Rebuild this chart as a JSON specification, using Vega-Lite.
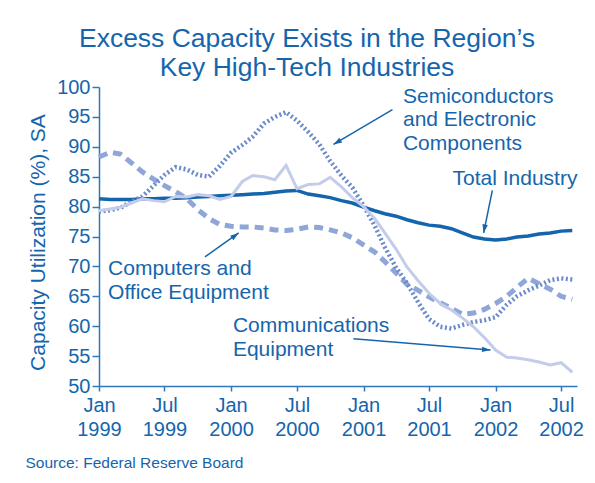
{
  "$schema": "https://vega.github.io/schema/vega-lite/v6.json",
  "width": 478,
  "height": 299,
  "autosize": {"type": "none"},
  "padding": {"left": 99, "top": 87, "right": 18, "bottom": 97},
  "background": "white",
  "config": {
    "font": "Liberation Sans",
    "view": {"stroke": null},
    "axis": {"grid": false},
    "axisY": {"tickCount": 12, "labelOverlap": false}
  },
  "title": {
    "text": ["Excess Capacity Exists in the Region’s", "Key High-Tech Industries"],
    "fontSize": 26.5,
    "fontWeight": "normal",
    "color": "#1565ad",
    "lineHeight": 29,
    "anchor": "middle",
    "frame": "group",
    "dx": -31,
    "offset": -4
  },
  "datasets": {
    "series": [
      {"date": "1999-01-01", "total": 81.3, "semis": 79.2, "computers": 88.3, "comms": 79.3},
      {"date": "1999-02-01", "total": 81.2, "semis": 79.4, "computers": 89.1, "comms": 79.6},
      {"date": "1999-03-01", "total": 81.2, "semis": 79.8, "computers": 88.8, "comms": 79.9},
      {"date": "1999-04-01", "total": 81.2, "semis": 80.8, "computers": 87.3, "comms": 80.6},
      {"date": "1999-05-01", "total": 81.3, "semis": 81.7, "computers": 85.8, "comms": 81.3},
      {"date": "1999-06-01", "total": 81.3, "semis": 83.5, "computers": 84.6, "comms": 81.0},
      {"date": "1999-07-01", "total": 81.4, "semis": 85.3, "computers": 83.5, "comms": 80.8},
      {"date": "1999-08-01", "total": 81.4, "semis": 86.6, "computers": 82.5, "comms": 81.7},
      {"date": "1999-09-01", "total": 81.5, "semis": 86.2, "computers": 81.3, "comms": 81.6},
      {"date": "1999-10-01", "total": 81.6, "semis": 85.3, "computers": 79.5, "comms": 82.0},
      {"date": "1999-11-01", "total": 81.7, "semis": 85.0, "computers": 78.0, "comms": 81.8},
      {"date": "1999-12-01", "total": 81.8, "semis": 86.8, "computers": 77.0, "comms": 81.2},
      {"date": "2000-01-01", "total": 81.9, "semis": 89.0, "computers": 76.7, "comms": 81.7},
      {"date": "2000-02-01", "total": 82.0, "semis": 90.3, "computers": 76.6, "comms": 84.2},
      {"date": "2000-03-01", "total": 82.1, "semis": 91.7, "computers": 76.6, "comms": 85.2},
      {"date": "2000-04-01", "total": 82.2, "semis": 93.9, "computers": 76.4, "comms": 85.0},
      {"date": "2000-05-01", "total": 82.4, "semis": 95.0, "computers": 76.1, "comms": 84.5},
      {"date": "2000-06-01", "total": 82.6, "semis": 95.8, "computers": 76.0, "comms": 86.9},
      {"date": "2000-07-01", "total": 82.7, "semis": 94.4, "computers": 76.2, "comms": 83.0},
      {"date": "2000-08-01", "total": 82.1, "semis": 92.5, "computers": 76.6, "comms": 83.7},
      {"date": "2000-09-01", "total": 81.8, "semis": 90.4, "computers": 76.5, "comms": 83.8},
      {"date": "2000-10-01", "total": 81.5, "semis": 87.6, "computers": 76.1, "comms": 84.9},
      {"date": "2000-11-01", "total": 81.0, "semis": 85.2, "computers": 75.6, "comms": 83.3},
      {"date": "2000-12-01", "total": 80.6, "semis": 83.2, "computers": 74.8, "comms": 81.5},
      {"date": "2001-01-01", "total": 79.9, "semis": 80.2, "computers": 73.6, "comms": 80.0},
      {"date": "2001-02-01", "total": 79.3, "semis": 76.8, "computers": 72.4, "comms": 78.0},
      {"date": "2001-03-01", "total": 78.8, "semis": 73.2, "computers": 70.8, "comms": 75.6},
      {"date": "2001-04-01", "total": 78.4, "semis": 69.8, "computers": 68.9, "comms": 72.9},
      {"date": "2001-05-01", "total": 77.8, "semis": 67.2, "computers": 67.0, "comms": 69.9},
      {"date": "2001-06-01", "total": 77.3, "semis": 64.0, "computers": 66.0, "comms": 67.6},
      {"date": "2001-07-01", "total": 76.9, "semis": 61.2, "computers": 64.9, "comms": 65.5},
      {"date": "2001-08-01", "total": 76.7, "semis": 59.9, "computers": 63.9, "comms": 63.8},
      {"date": "2001-09-01", "total": 76.3, "semis": 59.6, "computers": 63.0, "comms": 62.7},
      {"date": "2001-10-01", "total": 75.6, "semis": 60.2, "computers": 62.0, "comms": 61.4},
      {"date": "2001-11-01", "total": 74.9, "semis": 60.7, "computers": 62.2, "comms": 59.9},
      {"date": "2001-12-01", "total": 74.6, "semis": 61.0, "computers": 62.8, "comms": 58.1},
      {"date": "2002-01-01", "total": 74.4, "semis": 61.5, "computers": 63.8, "comms": 56.0},
      {"date": "2002-02-01", "total": 74.6, "semis": 63.6, "computers": 65.0, "comms": 54.8},
      {"date": "2002-03-01", "total": 74.9, "semis": 65.0, "computers": 66.5, "comms": 54.7},
      {"date": "2002-04-01", "total": 75.1, "semis": 66.0, "computers": 68.0, "comms": 54.4},
      {"date": "2002-05-01", "total": 75.4, "semis": 66.8, "computers": 67.1, "comms": 54.0},
      {"date": "2002-06-01", "total": 75.6, "semis": 67.7, "computers": 66.2, "comms": 53.5},
      {"date": "2002-07-01", "total": 75.9, "semis": 68.0, "computers": 65.0, "comms": 53.9},
      {"date": "2002-08-01", "total": 76.0, "semis": 67.8, "computers": 64.5, "comms": 52.3}
    ],
    "labels": [
      {"name": "semis", "text": "Semiconductors\nand Electronic\nComponents", "date": "2001-04-20", "value": 97.4},
      {"name": "total", "text": "Total Industry", "date": "2001-09-04", "value": 83.6},
      {"name": "computers", "text": "Computers and\nOffice Equipment", "date": "1999-01-26", "value": 68.5},
      {"name": "comms", "text": "Communications\nEquipment", "date": "2000-01-06", "value": 59.0}
    ],
    "arrows": [
      {"name": "semis", "date": "2001-03-22", "value": 96.2, "date2": "2000-10-10", "value2": 90.4},
      {"name": "total", "date": "2001-12-23", "value": 82.7, "date2": "2001-11-29", "value2": 75.6},
      {"name": "computers", "date": "1999-10-21", "value": 71.6, "date2": "2000-01-22", "value2": 75.6},
      {"name": "comms", "date": "2000-12-04", "value": 57.9, "date2": "2001-12-18", "value2": 56.0}
    ]
  },
  "encoding": {
    "x": {
      "field": "date",
      "type": "temporal",
      "scale": {
        "type": "utc",
        "domain": [
          {"year": 1999, "month": 1, "date": 1, "utc": true},
          {"year": 2002, "month": 8, "date": 14, "utc": true}
        ]
      },
      "axis": {
        "values": [
          {"year": 1999, "month": 1, "date": 1, "utc": true},
          {"year": 1999, "month": 7, "date": 1, "utc": true},
          {"year": 2000, "month": 1, "date": 1, "utc": true},
          {"year": 2000, "month": 7, "date": 1, "utc": true},
          {"year": 2001, "month": 1, "date": 1, "utc": true},
          {"year": 2001, "month": 7, "date": 1, "utc": true},
          {"year": 2002, "month": 1, "date": 1, "utc": true},
          {"year": 2002, "month": 7, "date": 1, "utc": true}
        ],
        "tickCount": 10,
        "labelExpr": "[utcFormat(datum.value, '%b'), utcFormat(datum.value, '%Y')]",
        "labelFontSize": 20,
        "labelLineHeight": 24,
        "labelColor": "#1565ad",
        "labelPadding": 4,
        "labelFlush": false,
        "labelOverlap": false,
        "domainColor": "#2f78bd",
        "domainWidth": 1.5,
        "tickColor": "#2f78bd",
        "tickWidth": 1.5,
        "tickSize": 5,
        "title": "Source: Federal Reserve Board",
        "titleFontSize": 15.5,
        "titleFontWeight": "normal",
        "titleColor": "#1565ad",
        "titleAlign": "left",
        "titleAnchor": "start",
        "titleBaseline": "alphabetic",
        "titleX": -74,
        "titleY": 81
      }
    }
  },
  "layer": [
    {
      "data": {"name": "series"},
      "mark": {"type": "line", "color": "#1565ad", "strokeWidth": 3.5},
      "encoding": {
        "y": {
          "field": "total",
          "type": "quantitative",
          "scale": {"domain": [50, 100], "nice": false, "zero": false},
          "axis": {
            "values": [50, 55, 60, 65, 70, 75, 80, 85, 90, 95, 100],
            "tickCount": 12,
            "labelFontSize": 20,
            "labelColor": "#1565ad",
            "labelPadding": 2,
            "labelFlush": false,
            "labelOverlap": false,
            "domainColor": "#2f78bd",
            "domainWidth": 1.5,
            "tickColor": "#2f78bd",
            "tickWidth": 1.5,
            "tickSize": 7,
            "title": "Capacity Utilization (%), SA",
            "titleFontSize": 21,
            "titleFontWeight": "normal",
            "titleColor": "#1565ad",
            "titlePadding": 8,
            "titleY": 155
          }
        }
      }
    },
    {
      "data": {"name": "series"},
      "mark": {"type": "line", "color": "#8ea6d8", "strokeWidth": 5, "strokeDash": [9, 6]},
      "encoding": {"y": {"field": "computers", "type": "quantitative"}}
    },
    {
      "data": {"name": "series"},
      "mark": {"type": "line", "color": "#6a8acb", "strokeWidth": 4.5, "strokeDash": [2, 2.5]},
      "encoding": {"y": {"field": "semis", "type": "quantitative"}}
    },
    {
      "data": {"name": "series"},
      "mark": {"type": "line", "color": "#c3cdea", "strokeWidth": 3},
      "encoding": {"y": {"field": "comms", "type": "quantitative"}}
    },
    {
      "data": {"name": "labels"},
      "mark": {"type": "text", "align": "left", "baseline": "alphabetic", "fontSize": 21, "lineHeight": 23.5, "lineBreak": "\n", "color": "#1565ad"},
      "encoding": {
        "y": {"field": "value", "type": "quantitative"},
        "text": {"field": "text"}
      }
    },
    {
      "data": {"name": "arrows"},
      "mark": {"type": "rule", "color": "#1565ad", "strokeWidth": 1.5},
      "encoding": {
        "y": {"field": "value", "type": "quantitative"},
        "x2": {"field": "date2"},
        "y2": {"field": "value2"}
      }
    },
    {
      "data": {"name": "arrows"},
      "transform": [{"filter": "datum.name === 'semis'"}],
      "mark": {"type": "point", "shape": "M0,0L-0.55,1.7L0.55,1.7Z", "filled": true, "color": "#1565ad", "size": 100, "opacity": 1, "angle": 239},
      "encoding": {"x": {"field": "date2", "type": "temporal"}, "y": {"field": "value2", "type": "quantitative"}}
    },
    {
      "data": {"name": "arrows"},
      "transform": [{"filter": "datum.name === 'total'"}],
      "mark": {"type": "point", "shape": "M0,0L-0.55,1.7L0.55,1.7Z", "filled": true, "color": "#1565ad", "size": 100, "opacity": 1, "angle": 190},
      "encoding": {"x": {"field": "date2", "type": "temporal"}, "y": {"field": "value2", "type": "quantitative"}}
    },
    {
      "data": {"name": "arrows"},
      "transform": [{"filter": "datum.name === 'computers'"}],
      "mark": {"type": "point", "shape": "M0,0L-0.55,1.7L0.55,1.7Z", "filled": true, "color": "#1565ad", "size": 100, "opacity": 1, "angle": 54},
      "encoding": {"x": {"field": "date2", "type": "temporal"}, "y": {"field": "value2", "type": "quantitative"}}
    },
    {
      "data": {"name": "arrows"},
      "transform": [{"filter": "datum.name === 'comms'"}],
      "mark": {"type": "point", "shape": "M0,0L-0.55,1.7L0.55,1.7Z", "filled": true, "color": "#1565ad", "size": 100, "opacity": 1, "angle": 95},
      "encoding": {"x": {"field": "date2", "type": "temporal"}, "y": {"field": "value2", "type": "quantitative"}}
    }
  ]
}
